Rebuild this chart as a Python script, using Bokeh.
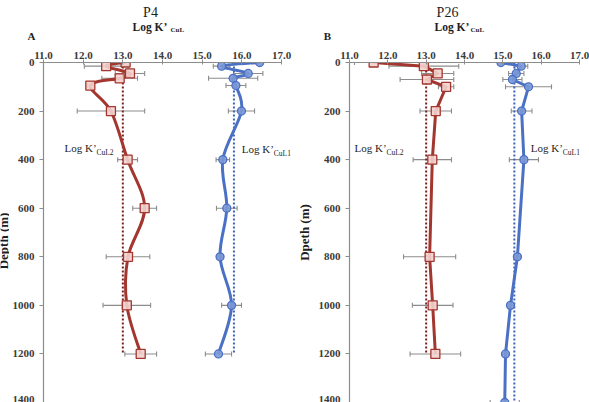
import math

from bokeh.embed import file_html
from bokeh.layouts import column, row
from bokeh.models import (ColumnDataSource, FixedTicker, Label, LinearAxis,
                          NumeralTickFormatter, Range1d, TeeHead, Whisker)
from bokeh.plotting import figure
from bokeh.resources import INLINE

# ---- station P4 ----
p4_depth = [0, 15, 45, 65, 95, 200, 400, 600, 800, 1000, 1200]
p4_l2 = [13.07, 12.58, 13.18, 12.92, 12.18, 12.70, 13.12, 13.55, 13.13, 13.10, 13.45]
p4_l2_err = [0.08, 0.55, 0.37, 0.45, 0.08, 0.85, 0.25, 0.30, 0.55, 0.60, 0.40]
p4_l1 = [16.45, 15.49, 16.16, 15.78, 15.85, 15.99, 15.52, 15.62, 15.45, 15.74, 15.41]
p4_l1_err = [0.05, 0.21, 0.37, 0.62, 0.25, 0.33, 0.17, 0.26, 0.07, 0.25, 0.33]
p4_l2_mean = 13.0
p4_l1_mean = 15.8

# ---- station P26 ----
p26_depth_l2 = [0, 15, 45, 70, 100, 200, 400, 800, 1000, 1200]
p26_l2 = [11.63, 12.94, 13.30, 13.02, 13.52, 13.25, 13.16, 13.09, 13.17, 13.24]
p26_l2_err = [0.50, 0.91, 0.42, 0.70, 0.20, 0.41, 0.50, 0.68, 0.53, 0.66]
p26_depth_l1 = [0, 15, 45, 70, 100, 200, 400, 800, 1000, 1200, 1400]
p26_l1 = [14.95, 15.48, 15.35, 15.25, 15.67, 15.49, 15.55, 15.38, 15.20, 15.07, 15.05]
p26_l1_err = [0.05, 0.17, 0.20, 0.25, 0.60, 0.27, 0.38, 0.08, 0.08, 0.08, 0.38]
p26_l2_mean = 13.0
p26_l1_mean = 15.3

x_ticks = [11.0, 12.0, 13.0, 14.0, 15.0, 16.0, 17.0]
depth_ticks = [0, 200, 400, 600, 800, 1000, 1200, 1400]

RED = "#A3362E"
RED_FILL = "#F3D2CE"
RED_DOT = "#7A1E1E"
BLUE = "#4B71C4"
BLUE_FILL = "#7C98D6"
BLUE_DOT = "#3D62BC"
GREY = "#8C8C8C"
INK = "#1E1E1E"
SERIF = "Liberation Serif"

HEADER_H = 40
PANEL_H = 402 - HEADER_H


def smooth_segments(xs, ys):
    """Catmull-Rom style Bezier control points through the data points."""
    n = len(xs)
    out = dict(x0=[], y0=[], x1=[], y1=[], cx0=[], cy0=[], cx1=[], cy1=[])
    for i in range(n - 1):
        xm, ym = (xs[i - 1], ys[i - 1]) if i > 0 else (xs[i], ys[i])
        xp, yp = (xs[i + 2], ys[i + 2]) if i + 2 < n else (xs[i + 1], ys[i + 1])
        out["x0"].append(xs[i]); out["y0"].append(ys[i])
        out["x1"].append(xs[i + 1]); out["y1"].append(ys[i + 1])
        out["cx0"].append(xs[i] + (xs[i + 1] - xm) / 6.0)
        out["cy0"].append(ys[i] + (ys[i + 1] - ym) / 6.0)
        out["cx1"].append(xs[i + 1] - (xp - xs[i]) / 6.0)
        out["cy1"].append(ys[i + 1] - (yp - ys[i]) / 6.0)
    return out


def blank(width, height):
    """A plain drawing area (no axes) used for free-standing text."""
    p = figure(width=width, height=height, output_backend="svg", toolbar_location=None,
               x_range=Range1d(0, width), y_range=Range1d(height, 0),
               x_axis_location=None, y_axis_location=None,
               min_border=0, min_border_left=0, min_border_right=0,
               min_border_top=0, min_border_bottom=0)
    p.outline_line_color = None
    p.grid.visible = False
    return p


def make_panel(width, left, right, x_end=17.0, y_label=None):
    p = figure(width=width, height=PANEL_H, output_backend="svg", toolbar_location=None,
               x_range=Range1d(11.0, x_end), y_range=Range1d(1400, 0),
               x_axis_location=None, y_axis_location=None,
               min_border_left=left, min_border_right=right,
               min_border_top=22, min_border_bottom=0)
    p.outline_line_color = None
    p.grid.visible = False

    xa = LinearAxis(ticker=FixedTicker(ticks=x_ticks),
                    formatter=NumeralTickFormatter(format="0.0"),
                    bounds=(11.0, 17.0))
    ya = LinearAxis(ticker=FixedTicker(ticks=depth_ticks))
    for ax in (xa, ya):
        ax.axis_line_color = GREY
        ax.axis_line_width = 1.2
        ax.major_tick_line_color = GREY
        ax.minor_tick_line_color = None
        ax.major_label_text_font = SERIF
        ax.major_label_text_font_style = "bold"
        ax.major_label_text_font_size = "11px"
        ax.major_label_text_color = "#3A3A3A"
    xa.major_tick_in = 2
    xa.major_tick_out = 3
    xa.major_label_standoff = 1
    ya.major_tick_in = 0
    ya.major_tick_out = 4
    ya.major_label_standoff = 5
    if y_label:
        ya.axis_label = y_label
        ya.axis_label_text_font = SERIF
        ya.axis_label_text_font_style = "bold"
        ya.axis_label_text_font_size = "13px"
        ya.axis_label_text_color = INK
        ya.axis_label_standoff = 4
    p.add_layout(xa, "above")
    p.add_layout(ya, "left")
    return p


def add_series(p, depth, vals, errs, color, fill, marker, size, smooth):
    src = ColumnDataSource(dict(d=depth, v=vals,
                                lo=[a - b for a, b in zip(vals, errs)],
                                hi=[a + b for a, b in zip(vals, errs)]))
    w = Whisker(source=src, base="d", lower="lo", upper="hi", dimension="width",
                line_color=GREY, line_width=1.1,
                lower_head=TeeHead(size=5, line_color=GREY, line_width=1.1),
                upper_head=TeeHead(size=5, line_color=GREY, line_width=1.1))
    p.add_layout(w)
    if smooth:
        seg = smooth_segments(vals, depth)
        p.bezier(source=ColumnDataSource(seg), x0="x0", y0="y0", x1="x1", y1="y1",
                 cx0="cx0", cy0="cy0", cx1="cx1", cy1="cy1",
                 line_color=color, line_width=3)
    else:
        p.line("v", "d", source=src, line_color=color, line_width=3)
    p.scatter("v", "d", source=src, marker=marker, size=size,
              fill_color=fill, line_color=color, line_width=1.3, fill_alpha=0.9)


def text(p, x, y, s, size, bold=False, align="left", angle=0.0, xo=0, yo=0):
    p.add_layout(Label(x=x, y=y, text=s, text_font=SERIF, text_font_size=size,
                       text_font_style="bold" if bold else "normal",
                       text_color=INK, text_align=align,
                       text_baseline="middle", angle=angle,
                       x_offset=xo, y_offset=yo))


def log_k(p, x, y, sub, size, subsize, main_w, bold=False):
    text(p, x, y, "Log K\u2019", size, bold=bold)
    text(p, x, y, sub, subsize, bold=bold, xo=main_w, yo=-4)


# ---------------- header: station names and axis titles ----------------
head = blank(589, HEADER_H)
text(head, 150, 12, "P4", "14px", align="center")
text(head, 447, 12, "P26", "14px", align="center")
text(head, 132, 26, "Log K\u2019", "11.5px", bold=True)
text(head, 170, 29, "CuL", "7px", bold=True)
text(head, 434, 26, "Log K\u2019", "11.5px", bold=True)
text(head, 470, 29, "CuL", "7px", bold=True)
text(head, 31, 35, "A", "11px", bold=True, align="center")
text(head, 327, 35, "B", "11px", bold=True, align="center")

# ---------------- left edge: depth title of panel A ----------------
edge = blank(9, PANEL_H)
text(edge, 2.5, 190, "Depth (m)", "13px", bold=True, align="center",
     angle=math.pi / 2)

# ---------------- P4 ----------------
# frame runs 10 px past 17.0 so the K'CuL1 label has room; the axis stops at 17.0
pa = make_panel(284, 33, 2, x_end=17.0 + 10 / 39.83)
pa.line([p4_l2_mean, p4_l2_mean], [0, 1200], line_color=RED_DOT, line_width=2,
        line_dash="2 2")
pa.line([p4_l1_mean, p4_l1_mean], [0, 1200], line_color=BLUE_DOT, line_width=2,
        line_dash="2 2")
add_series(pa, p4_depth, p4_l2, p4_l2_err, RED, RED_FILL, "square", 9, True)
add_series(pa, p4_depth, p4_l1, p4_l1_err, BLUE, BLUE_FILL, "circle", 8, True)
log_k(pa, 11.53, 354, "CuL2", "11px", "7.5px", 32)
log_k(pa, 16.0, 358, "CuL1", "11px", "7.5px", 32)

# ---------------- P26 ----------------
pb = make_panel(296, 50, 10, y_label="Dpeth (m)")
pb.line([p26_l2_mean, p26_l2_mean], [0, 1200], line_color=RED_DOT, line_width=2,
        line_dash="2 2")
pb.line([p26_l1_mean, p26_l1_mean], [0, 1400], line_color=BLUE_DOT, line_width=2,
        line_dash="2 2")
add_series(pb, p26_depth_l2, p26_l2, p26_l2_err, RED, RED_FILL, "square", 9, False)
add_series(pb, p26_depth_l1, p26_l1, p26_l1_err, BLUE, BLUE_FILL, "circle", 8, False)
log_k(pb, 11.13, 354, "CuL2", "11px", "7.5px", 32)
log_k(pb, 15.73, 354, "CuL1", "11px", "7.5px", 32)

layout = column(head, row(edge, pa, pb, spacing=0), spacing=0)
open("out.html", "w").write(file_html(layout, INLINE))
